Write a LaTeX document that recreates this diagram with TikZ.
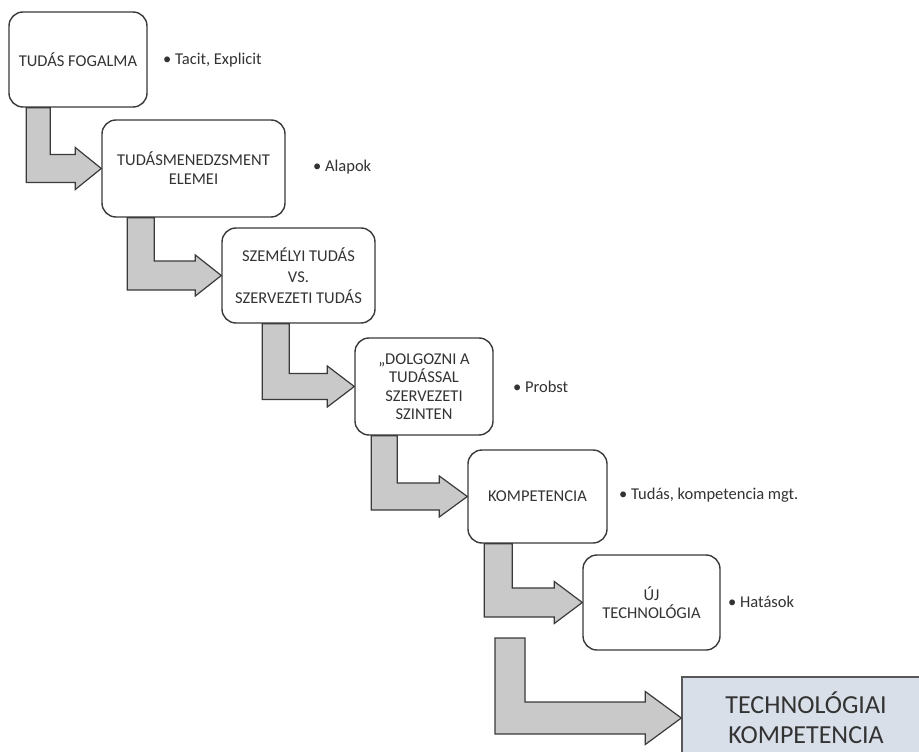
\documentclass[tikz,border=0pt]{standalone}
\usepackage{fontspec}
\setmainfont{Carlito}
\usetikzlibrary{calc}
\definecolor{edge}{HTML}{3A3A3A}
\definecolor{arrowfill}{HTML}{C9C9C9}
\definecolor{goalfill}{HTML}{D9DFE9}
\definecolor{ink}{HTML}{333333}
\tikzset{
  stage/.style={draw=edge, line width=1.4pt, rounded corners=14pt, fill=white,
    align=center, inner sep=0pt, text=ink, font=\fontsize{16.5}{19}\selectfont},
  note/.style={anchor=west, inner sep=0pt, text=ink, font=\fontsize{16.5}{19}\selectfont},
  bent/.style={draw=edge, line width=1.2pt, fill=arrowfill, line join=miter},
  goal/.style={draw=edge!85, line width=1.4pt, fill=goalfill, align=center,
    inner sep=0pt, text=ink, font=\fontsize{26}{30}\selectfont}
}
% bent arrow: #1 top-left of the shaft, #2 target node, #3 shaft width,
% #4 half width of the horizontal band, #5 half height of the head, #6 head length
\newcommand\bentarrow[6]{%
  \draw[bent] (#1) -- ++(#3,0) |- ($(#2.west)+(-#6,-#4)$)
    -- ($(#2.west)+(-#6,-#5)$) -- (#2.west) -- ($(#2.west)+(-#6,#5)$)
    -- ($(#2.west)+(-#6,#4)$) -| (#1) -- cycle;
}
\begin{document}
\begin{tikzpicture}[x=1pt,y=-1pt]
  \useasboundingbox (0,0) rectangle (919,752);
  \fill[white] (0,0) rectangle (919,752);
  \clip (0,0) rectangle (919,752);

  % stages
  \node[stage, minimum width=138pt, minimum height=95pt] (b1) at (78,59.5) {TUDÁS FOGALMA};
  \node[stage, minimum width=183pt, minimum height=97pt] (b2) at (193.5,168.5) {TUDÁSMENEDZSMENT\\ELEMEI};
  \node[stage, minimum width=153pt, minimum height=95pt] (b3) at (298.5,275.5) {SZEMÉLYI TUDÁS\\[2pt]VS.\\[2pt]SZERVEZETI TUDÁS};
  \node[stage, minimum width=138pt, minimum height=97pt, font=\fontsize{16.5}{18.5}\selectfont] (b4) at (424,386.5) {„DOLGOZNI A\\TUDÁSSAL\\SZERVEZETI\\SZINTEN};
  \node[stage, minimum width=139pt, minimum height=93pt] (b5) at (537.5,496.5) {KOMPETENCIA};
  \node[stage, minimum width=137pt, minimum height=95pt, font=\fontsize{16.5}{17.5}\selectfont] (b6) at (651.5,602.5) {ÚJ\\TECHNOLÓGIA};
  \node[goal, minimum width=248pt, minimum height=82pt] (b7) at (806,718) {TECHNOLÓGIAI\\KOMPETENCIA};

  % side notes
  \node[note] (n1) at (163,60) {• Tacit, Explicit};
  \node[note] (n2) at (313,167) {• Alapok};
  \node[note] (n3) at (513,387) {• Probst};
  \node[note] (n4) at (619,495) {• Tudás, kompetencia mgt.};
  \node[note] (n5) at (728,602) {• Hatások};

  % shaft starts
  \coordinate (s1) at ($(b1.south west)+(18,0)$);
  \coordinate (s2) at ($(b2.south west)+(26,0)$);
  \coordinate (s3) at ($(b3.south west)+(41,0)$);
  \coordinate (s4) at ($(b4.south west)+(17,0)$);
  \coordinate (s5) at ($(b5.south west)+(17,0)$);
  \coordinate (s6) at (495,638);

  % connectors
  \bentarrow{s1}{b2}{24}{14}{21}{26}
  \bentarrow{s2}{b3}{27}{14.5}{20.5}{26}
  \bentarrow{s3}{b4}{27}{13}{20.5}{27}
  \bentarrow{s4}{b5}{26}{13.5}{20.5}{28}
  \bentarrow{s5}{b6}{28}{14.5}{21}{28}
  \bentarrow{s6}{b7}{30}{16}{26.5}{36}
\end{tikzpicture}
\end{document}
